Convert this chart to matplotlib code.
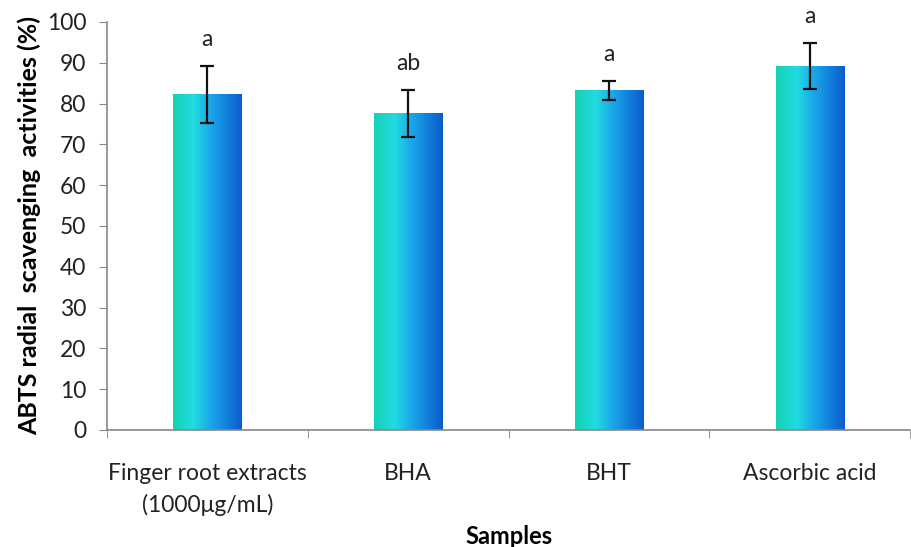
import numpy as np
import matplotlib
matplotlib.use('agg')
import matplotlib.pyplot as plt
from matplotlib.colors import LinearSegmentedColormap

# data
samples = ['Finger root extracts\n(1000μg/mL)', 'BHA', 'BHT', 'Ascorbic acid']
activity = [82.3, 77.5, 83.2, 89.2]
errors = [7.0, 5.8, 2.4, 5.6]
letters = ['a', 'ab', 'a', 'a']

plt.rcParams['font.family'] = ['Lato', 'DejaVu Sans']

fig = plt.figure(figsize=(9.12, 5.47), dpi=100)
ax = fig.add_axes([0.1173, 0.2139, 0.8807, 0.7459])

# turquoise -> light cyan -> blue gradient, like the excel bars
grad = LinearSegmentedColormap.from_list('bar', [
    (0.0, '#14d2b4'), (0.3, '#22dbe0'), (0.55, '#1aa6ea'), (1.0, '#0a5ccc')])
gimg = np.linspace(0, 1, 256).reshape(1, -1)

width = 0.34
x = np.arange(len(samples))
bars = ax.bar(x, activity, width=width, color='none', edgecolor='none', zorder=2)
for b in bars:
    x0, y0 = b.get_x(), b.get_y()
    ax.imshow(gimg, cmap=grad, aspect='auto', zorder=2,
              extent=[x0, x0 + b.get_width(), y0, y0 + b.get_height()])

ax.errorbar(x, activity, yerr=errors, fmt='none', ecolor='#111111',
            elinewidth=1.6, capsize=5, capthick=1.6, zorder=3)

for xi, v, e, lab in zip(x, activity, errors, letters):
    ax.text(xi, v + e + 6.5, lab, ha='center', va='center', fontsize=16.5,
            color='#222222', clip_on=False)

ax.set_xlim(-0.5, len(samples) - 0.5)
ax.set_ylim(0, 100)
ax.set_yticks(range(0, 101, 10))
ax.set_xticks(x)
ax.set_xticklabels(samples, fontsize=16.5, color='#222222', linespacing=1.55)
ax.set_xticks(np.arange(-0.5, len(samples)), minor=True)
ax.tick_params(axis='x', which='major', length=0, pad=24)
ax.tick_params(axis='x', which='minor', length=6, direction='out', color='#888888')
ax.tick_params(axis='y', length=6, direction='out', color='#888888',
               labelsize=16.5, labelcolor='#222222', pad=9)

for s in ['top', 'right']:
    ax.spines[s].set_visible(False)
for s in ['left', 'bottom']:
    ax.spines[s].set_color('#888888')
    ax.spines[s].set_linewidth(1.2)

ax.set_xlabel('Samples', fontsize=17, fontweight='bold', labelpad=6)
ax.set_ylabel('ABTS radial  scavenging  activities (%)', fontsize=18,
              fontweight='bold', labelpad=4)

fig.savefig('out.png', dpi=100)
